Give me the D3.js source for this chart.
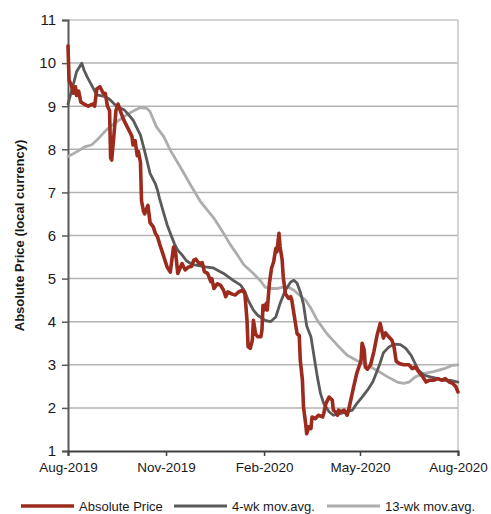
<!DOCTYPE html>
<html>
<head>
<meta charset="utf-8">
<script src="https://cdn.jsdelivr.net/npm/d3@7"></script>
<style>
  body { margin: 0; background: #fff; }
  text { font-family: "Liberation Sans", Arial, sans-serif; }
</style>
</head>
<body>
<svg class="line-chart"></svg>
<script>
// daily close
const priceDates = ['2019-08-01','2019-08-02','2019-08-04','2019-08-06','2019-08-08','2019-08-09','2019-08-11','2019-08-13','2019-08-16','2019-08-20',
  '2019-08-24','2019-08-26','2019-08-28','2019-08-31','2019-09-03','2019-09-05','2019-09-07','2019-09-09','2019-09-10','2019-09-11',
  '2019-09-13','2019-09-15','2019-09-17','2019-09-19','2019-09-22','2019-09-25','2019-09-28','2019-09-30','2019-10-01','2019-10-03',
  '2019-10-05','2019-10-06','2019-10-08','2019-10-09','2019-10-11','2019-10-12','2019-10-15','2019-10-17','2019-10-20','2019-10-22',
  '2019-10-24','2019-10-26','2019-10-29','2019-11-02','2019-11-05','2019-11-08','2019-11-10','2019-11-12','2019-11-16','2019-11-19',
  '2019-11-22','2019-11-25','2019-11-27','2019-11-29','2019-12-02','2019-12-05','2019-12-07','2019-12-10','2019-12-13','2019-12-14',
  '2019-12-16','2019-12-19','2019-12-22','2019-12-25','2019-12-27','2019-12-29','2020-01-02','2020-01-05','2020-01-08','2020-01-12',
  '2020-01-14','2020-01-16','2020-01-17','2020-01-19','2020-01-21','2020-01-22','2020-01-24','2020-01-26','2020-01-29','2020-01-30',
  '2020-01-31','2020-02-01','2020-02-03','2020-02-04','2020-02-06','2020-02-08','2020-02-10','2020-02-12','2020-02-13','2020-02-15',
  '2020-02-16','2020-02-18','2020-02-19','2020-02-21','2020-02-23','2020-02-24','2020-02-26','2020-02-27','2020-02-29','2020-03-03',
  '2020-03-05','2020-03-06','2020-03-08','2020-03-09','2020-03-11','2020-03-12','2020-03-14','2020-03-16','2020-03-17','2020-03-20',
  '2020-03-23','2020-03-27','2020-03-28','2020-03-30','2020-04-02','2020-04-05','2020-04-06','2020-04-08','2020-04-10','2020-04-11',
  '2020-04-13','2020-04-16','2020-04-19','2020-04-21','2020-04-22','2020-04-25','2020-04-28','2020-05-02','2020-05-03','2020-05-05',
  '2020-05-06','2020-05-08','2020-05-11','2020-05-14','2020-05-17','2020-05-20','2020-05-23','2020-05-25','2020-05-28','2020-05-31',
  '2020-06-02','2020-06-04','2020-06-07','2020-06-11','2020-06-16','2020-06-19','2020-06-22','2020-06-25','2020-06-29','2020-07-02',
  '2020-07-05','2020-07-09','2020-07-13','2020-07-17','2020-07-20','2020-07-24','2020-07-27','2020-07-30','2020-08-01'];
const priceValues = [10.4,9.6,9.5,9.3,9.45,9.25,9.35,9.1,9.05,9.0,
  9.05,9.0,9.4,9.45,9.3,9.3,9.0,8.9,7.8,7.75,
  8.3,8.9,9.05,8.9,8.7,8.55,8.4,8.3,8.1,8.2,
  7.85,7.95,7.7,6.8,6.55,6.5,6.7,6.3,6.2,6.05,
  5.97,5.8,5.58,5.27,5.15,5.73,5.6,5.12,5.35,5.2,
  5.27,5.28,5.43,5.45,5.35,5.37,5.16,5.12,4.93,5.0,
  4.77,4.88,4.85,4.73,4.58,4.69,4.64,4.62,4.69,4.73,
  4.65,4.03,3.42,3.38,3.57,4.03,3.72,3.65,3.65,3.8,
  4.38,4.27,4.42,4.27,4.89,5.24,5.39,5.7,5.62,6.05,
  5.74,5.43,5.04,4.65,4.58,4.54,4.58,4.5,4.19,3.72,
  3.68,3.1,2.64,2.02,1.64,1.4,1.56,1.52,1.79,1.75,
  1.83,1.79,1.87,2.1,2.25,2.18,1.95,1.91,1.83,1.95,
  1.91,1.95,1.83,2.02,2.14,2.48,2.8,3.1,3.5,3.34,
  2.95,2.9,3.0,3.3,3.68,3.96,3.62,3.74,3.65,3.57,
  3.41,3.08,3.03,3.0,3.0,2.91,2.95,2.84,2.72,2.6,
  2.64,2.64,2.68,2.64,2.68,2.6,2.57,2.49,2.37];

// 4-week moving average
const ma4Dates = ['2019-08-01','2019-08-07','2019-08-09','2019-08-14','2019-08-16','2019-08-19','2019-08-24','2019-08-28','2019-09-05','2019-09-09',
  '2019-09-16','2019-09-23','2019-09-27','2019-10-01','2019-10-08','2019-10-12','2019-10-17','2019-10-22','2019-10-24','2019-10-26',
  '2019-10-29','2019-11-02','2019-11-05','2019-11-09','2019-11-12','2019-11-16','2019-11-20','2019-11-24','2019-11-29','2019-12-08',
  '2019-12-15','2019-12-25','2020-01-03','2020-01-10','2020-01-14','2020-01-17','2020-01-22','2020-01-26','2020-02-02','2020-02-07',
  '2020-02-12','2020-02-16','2020-02-21','2020-02-26','2020-02-29','2020-03-03','2020-03-06','2020-03-09','2020-03-12','2020-03-16',
  '2020-03-19','2020-03-22','2020-03-25','2020-03-28','2020-04-02','2020-04-06','2020-04-13','2020-04-19','2020-04-24','2020-04-28',
  '2020-05-03','2020-05-08','2020-05-13','2020-05-17','2020-05-20','2020-05-23','2020-05-28','2020-06-02','2020-06-08','2020-06-13',
  '2020-06-18','2020-06-21','2020-06-25','2020-06-30','2020-07-06','2020-07-13','2020-07-19','2020-07-25','2020-08-01'];
const ma4Values = [9.05,9.6,9.8,10.0,9.84,9.68,9.45,9.26,9.22,9.16,
  8.99,8.91,8.8,8.68,8.33,7.95,7.44,7.2,7.05,6.85,
  6.59,6.25,6.05,5.8,5.66,5.55,5.42,5.35,5.31,5.27,
  5.25,5.12,4.96,4.85,4.7,4.5,4.27,4.15,4.03,4.0,
  4.11,4.42,4.73,4.92,4.96,4.89,4.69,4.4,3.9,3.65,
  3.18,2.72,2.33,2.1,1.91,1.83,1.87,1.91,1.95,2.1,
  2.25,2.41,2.6,2.85,3.05,3.28,3.41,3.48,3.47,3.38,
  3.22,3.07,2.87,2.76,2.72,2.68,2.64,2.64,2.6];

// 13-week moving average
const ma13Dates = ['2019-08-01','2019-08-09','2019-08-17','2019-08-23','2019-08-28','2019-09-03','2019-09-09','2019-09-16','2019-09-25','2019-10-03',
  '2019-10-08','2019-10-14','2019-10-17','2019-10-23','2019-10-30','2019-11-05','2019-11-16','2019-11-25','2019-12-03','2019-12-16',
  '2019-12-25','2019-12-31','2020-01-07','2020-01-13','2020-01-22','2020-01-29','2020-02-02','2020-02-07','2020-02-13','2020-02-19',
  '2020-02-24','2020-02-29','2020-03-05','2020-03-11','2020-03-16','2020-03-22','2020-03-31','2020-04-10','2020-04-19','2020-04-28',
  '2020-05-08','2020-05-17','2020-05-27','2020-06-05','2020-06-11','2020-06-16','2020-06-22','2020-06-30','2020-07-09','2020-07-19',
  '2020-07-27','2020-08-01'];
const ma13Values = [7.83,7.94,8.06,8.1,8.21,8.37,8.52,8.64,8.8,8.91,
  8.97,8.95,8.87,8.52,8.29,7.98,7.52,7.13,6.8,6.4,
  6.05,5.8,5.55,5.32,5.12,4.94,4.8,4.77,4.77,4.8,
  4.8,4.73,4.62,4.5,4.31,4.03,3.72,3.45,3.22,3.1,
  2.99,2.87,2.72,2.6,2.57,2.6,2.72,2.8,2.84,2.91,
  2.99,3.0];

const xTickDates = ['2019-08-01','2019-11-01','2020-02-01','2020-05-01','2020-08-01'];
const yTicks = [1,2,3,4,5,6,7,8,9,10,11];

const seriesNames = ['Absolute Price','4-wk mov.avg.','13-wk mov.avg.'];
const seriesColors = ['#9c2b1d','#5a5a5a','#adadad'];
const seriesWidths = [3.6, 2.8, 2.8];

const parseDate = d3.timeParse('%Y-%m-%d');
const fmt = d3.timeFormat('%b-%Y');

function zipSeries(dates, values) {
  return dates.map((d, i) => ({ date: parseDate(d), value: values[i] }));
}

// drawn back to front: 13-wk, 4-wk, price
const series = [
  { idx: 2, values: zipSeries(ma13Dates, ma13Values) },
  { idx: 1, values: zipSeries(ma4Dates, ma4Values) },
  { idx: 0, values: zipSeries(priceDates, priceValues) }
];

const svgWidth = 491, svgHeight = 514;
const margin = { top: 20, right: 33, bottom: 63, left: 68 };
const width = svgWidth - margin.left - margin.right;
const height = svgHeight - margin.top - margin.bottom;

const svg = d3.select('svg.line-chart')
  .attr('width', svgWidth)
  .attr('height', svgHeight);

const g = svg.append('g')
  .attr('transform', `translate(${margin.left}, ${margin.top})`);

const x = d3.scaleTime()
  .domain([parseDate(xTickDates[0]), parseDate(xTickDates[xTickDates.length - 1])])
  .range([0, width]);

const y = d3.scaleLinear()
  .domain([1, 11])
  .range([height, 0]);

// grid
g.append('g')
  .selectAll('line')
  .data(yTicks.slice(1))
  .join('line')
  .attr('x1', 0).attr('x2', width)
  .attr('y1', d => y(d)).attr('y2', d => y(d))
  .attr('stroke', d => d === 11 ? '#c4c4c4' : '#b3b3b3')
  .attr('stroke-width', 1.5);

g.append('line')
  .attr('x1', width).attr('x2', width)
  .attr('y1', 0).attr('y2', height)
  .attr('stroke', '#c4c4c4')
  .attr('stroke-width', 1.5);

// axes
const yAxis = g.append('g')
  .call(d3.axisLeft(y).tickValues(yTicks).tickSize(6).tickPadding(6));
yAxis.select('.domain').attr('stroke', '#595959').attr('stroke-width', 2);
yAxis.selectAll('.tick line').attr('stroke', '#595959').attr('stroke-width', 1.5);
yAxis.selectAll('.tick text')
  .attr('font-size', 15)
  .attr('fill', '#1a1a1a')
  .attr('font-family', '"Liberation Sans", Arial, sans-serif');

const xAxis = g.append('g')
  .attr('transform', `translate(0, ${height})`)
  .call(d3.axisBottom(x).tickValues(xTickDates.map(parseDate)).tickFormat(fmt).tickSize(5).tickPadding(6));
xAxis.select('.domain').attr('stroke', '#404040').attr('stroke-width', 2);
xAxis.selectAll('.tick line').attr('stroke', '#404040').attr('stroke-width', 1.5);
xAxis.selectAll('.tick text')
  .attr('font-size', 13.5)
  .attr('fill', '#1a1a1a')
  .attr('font-family', '"Liberation Sans", Arial, sans-serif');

svg.append('text')
  .attr('transform', `translate(24, ${margin.top + height / 2}) rotate(-90)`)
  .attr('text-anchor', 'middle')
  .attr('font-size', 13)
  .attr('font-weight', 'bold')
  .attr('fill', '#1a1a1a')
  .text('Absolute Price (local currency)');

// lines
const line = d3.line()
  .x(d => x(d.date))
  .y(d => y(d.value));

g.selectAll('path.series')
  .data(series)
  .join('path')
  .attr('class', 'series')
  .attr('fill', 'none')
  .attr('stroke', d => seriesColors[d.idx])
  .attr('stroke-width', d => seriesWidths[d.idx])
  .attr('stroke-linejoin', 'round')
  .attr('stroke-linecap', 'round')
  .attr('d', d => line(d.values));

// legend
const legendX = [21, 174, 327];
const legend = svg.append('g')
  .attr('transform', 'translate(0, 506)');

const items = legend.selectAll('g')
  .data(seriesNames)
  .join('g')
  .attr('transform', (d, i) => `translate(${legendX[i]}, 0)`);

items.append('line')
  .attr('x1', 0).attr('x2', 53)
  .attr('stroke', (d, i) => seriesColors[i])
  .attr('stroke-width', (d, i) => seriesWidths[i]);

items.append('text')
  .attr('x', 58)
  .attr('dy', '0.35em')
  .attr('font-size', 13)
  .attr('fill', '#1a1a1a')
  .text(d => d);
</script>
</body>
</html>
